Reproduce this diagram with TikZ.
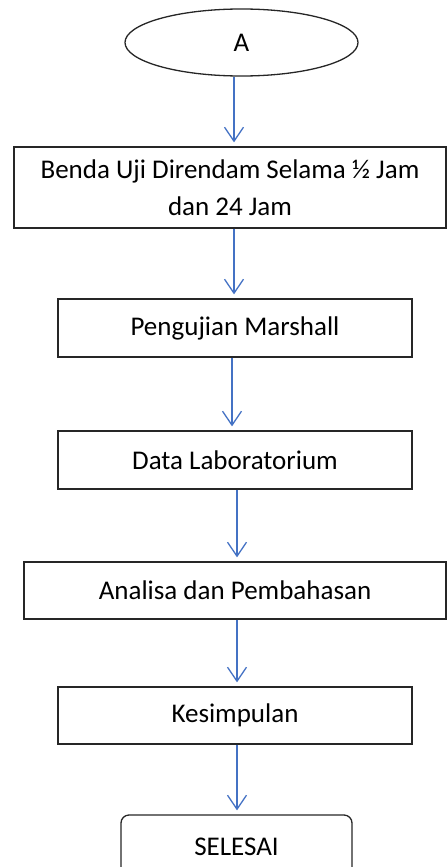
\documentclass[tikz,border=0pt]{standalone}
\usepackage{fontspec}
\setmainfont{Carlito}
\usepackage{tikz}
\usepackage{xcolor}
\usetikzlibrary{arrows.meta, shapes.geometric, calc, positioning}
\definecolor{flowblue}{RGB}{68,114,196}

\begin{document}
\begin{tikzpicture}[x=1pt, y=1pt,
        every node/.style={font=\fontsize{27}{37}\selectfont, line width=1.3pt, draw=black!85},
        box/.style={rectangle, align=center},
        flow/.style={draw=flowblue, line width=1.3pt, -{Straight Barb[length=14pt, width=19pt, line width=1.3pt]}, shorten >=4pt}]
                        \clip (0, 0) rectangle (447, -867);
                        \node[ellipse, minimum width=233, minimum height=67, inner sep=0pt] (start) at (241.5, -42.5) {A};
                        \node[box, minimum width=432, minimum height=81] (rendam) at (230, -187.5) {Benda Uji Direndam Selama ½ Jam\\dan 24 Jam};
                        \node[box, minimum width=354, minimum height=58] (marshall) at (235, -328) {Pengujian Marshall};
                        \node[box, minimum width=354, minimum height=58] (data) at (235, -460) {Data Laboratorium};
                        \node[box, minimum width=422, minimum height=57] (analisa) at (235, -590.5) {Analisa dan Pembahasan};
                        \node[box, minimum width=354, minimum height=57] (simpul) at (235, -715.5) {Kesimpulan};
                        \node[box, rounded corners=8pt, minimum width=231, minimum height=64] (selesai) at (236.5, -847) {SELESAI};
                        \draw[flow] ([xshift=-7.5pt]start.south) -- ([xshift=4pt]rendam.north);
                        \draw[flow] ([xshift=4pt]rendam.south) -- ([xshift=-1pt]marshall.north);
                        \draw[flow] ([xshift=-3pt]marshall.south) -- ([xshift=-3pt]data.north);
                        \draw[flow] ([xshift=2pt]data.south) -- ([xshift=2pt]analisa.north);
                        \draw[flow] ([xshift=2pt]analisa.south) -- ([xshift=2pt]simpul.north);
                        \draw[flow] ([xshift=2pt]simpul.south) -- ([xshift=0.5pt]selesai.north);
                    \end{tikzpicture}
\end{document}
